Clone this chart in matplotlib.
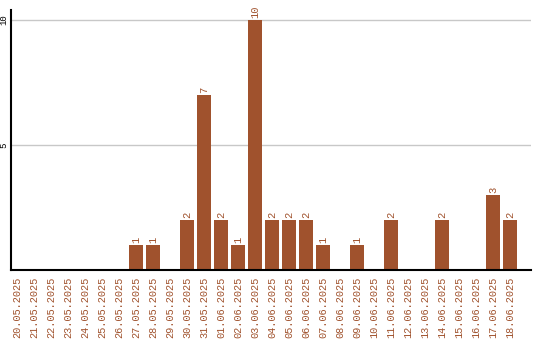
import matplotlib
matplotlib.use('Agg')
import matplotlib.pyplot as plt
import numpy as np

dates = ['20.05.2025', '21.05.2025', '22.05.2025', '23.05.2025', '24.05.2025',
         '25.05.2025', '26.05.2025', '27.05.2025', '28.05.2025', '29.05.2025',
         '30.05.2025', '31.05.2025', '01.06.2025', '02.06.2025', '03.06.2025',
         '04.06.2025', '05.06.2025', '06.06.2025', '07.06.2025', '08.06.2025',
         '09.06.2025', '10.06.2025', '11.06.2025', '12.06.2025', '13.06.2025',
         '14.06.2025', '15.06.2025', '16.06.2025', '17.06.2025', '18.06.2025']
counts = [0, 0, 0, 0, 0, 0, 0, 1, 1, 0,
          2, 7, 2, 1, 10, 2, 2, 2, 1, 0,
          1, 0, 2, 0, 0, 2, 0, 0, 3, 2]
yticks = [5, 10]

bar_color = '#A0522D'
mono = 'Liberation Mono'

fig = plt.figure(figsize=(5.4, 3.4), dpi=100)
ax = fig.add_axes([11/540, 70/340, 520/540, 260/340])

x = np.arange(len(dates))
ax.bar(x, counts, width=0.82, color=bar_color, zorder=2)
for xi, c in zip(x, counts):
    if c > 0:
        ax.text(xi, c + 0.08, str(c), rotation=90, ha='center', va='bottom',
                color=bar_color, fontsize=7.6, family=mono)

ax.set_xlim(-0.353, 30.24)
ax.set_ylim(0, 10.4)
ax.set_xticks(x)
ax.set_xticklabels(dates, rotation=90, color=bar_color, fontsize=7.4, family=mono)
ax.set_yticks(yticks)
ax.set_yticklabels([str(v) for v in yticks], rotation=90, va='center',
                   fontsize=6.5, family=mono)
ax.tick_params(axis='x', length=0, pad=4.5)
ax.tick_params(axis='y', length=0, pad=2)
ax.yaxis.grid(True, color='#c8c8c8', linewidth=1, zorder=0)
ax.spines['top'].set_visible(False)
ax.spines['right'].set_visible(False)
ax.spines['left'].set_linewidth(1.5)
ax.spines['bottom'].set_linewidth(1.5)

fig.savefig('out.png', dpi=100)
